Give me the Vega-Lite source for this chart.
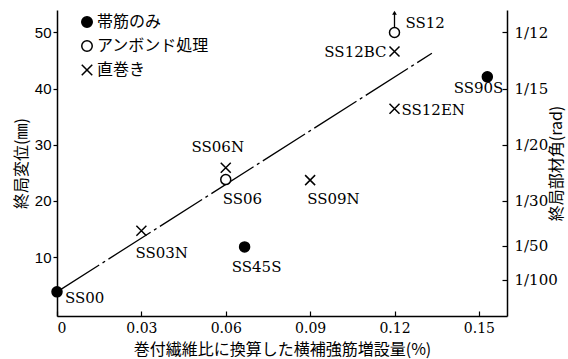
{
  "$schema": "https://vega.github.io/schema/vega-lite/v6.json",
  "width": 450,
  "height": 306,
  "autosize": {"type": "none"},
  "padding": {"left": 57, "top": 10, "right": 61, "bottom": 43},
  "background": "white",
  "config": {
    "view": {"stroke": null},
    "axis": {"grid": false, "domainColor": "black", "tickColor": "black", "labelColor": "black", "titleColor": "black", "domainWidth": 1.5, "tickWidth": 1.2},
    "text": {"font": "DejaVu Serif", "fontSize": 15, "color": "black", "baseline": "middle"}
  },
  "datasets": {
    "specimens": [
      {"name": "SS00", "type": "帯筋のみ", "x": 0, "y": 3.8},
      {"name": "SS45S", "type": "帯筋のみ", "x": 0.0667, "y": 11.8},
      {"name": "SS90S", "type": "帯筋のみ", "x": 0.153, "y": 42.1},
      {"name": "SS06", "type": "アンボンド処理", "x": 0.06, "y": 23.8},
      {"name": "SS12", "type": "アンボンド処理", "x": 0.12, "y": 50},
      {"name": "SS03N", "type": "直巻き", "x": 0.03, "y": 14.7},
      {"name": "SS06N", "type": "直巻き", "x": 0.06, "y": 25.9},
      {"name": "SS09N", "type": "直巻き", "x": 0.09, "y": 23.7},
      {"name": "SS12BC", "type": "直巻き", "x": 0.12, "y": 46.6},
      {"name": "SS12EN", "type": "直巻き", "x": 0.12, "y": 36.4}
    ],
    "fit": [
      {"x": 0, "y": 3.8},
      {"x": 0.1333, "y": 46.3}
    ],
    "arrow": [
      {"x": 0.12, "tail": 50.9, "tip": 53.5}
    ]
  },
  "layer": [
    {
      "data": {"name": "fit"},
      "mark": {"type": "line", "color": "black", "strokeWidth": 1.3, "strokeDash": [50, 4, 3, 4]},
      "encoding": {
        "x": {
          "field": "x", "type": "quantitative",
          "scale": {"domain": [0, 0.16], "nice": false, "zero": false},
          "axis": {
            "values": [0, 0.03, 0.06, 0.09, 0.12, 0.15],
            "labelExpr": "datum.value === 0 ? '0' : format(datum.value, '.2f')",
            "labelFont": "DejaVu Serif", "labelFontSize": 14, "labelPadding": 10,
            "tickSize": -5,
            "title": "巻付繊維比に換算した横補強筋増設量(%)",
            "titleFont": "Noto Sans CJK JP", "titleFontSize": 16, "titleFontWeight": "normal", "titlePadding": 6
          }
        },
        "y": {
          "field": "y", "type": "quantitative",
          "scale": {"domain": [-0.5, 54], "nice": false, "zero": false},
          "axis": {
            "orient": "left",
            "values": [10, 20, 30, 40, 50],
            "labelFont": "Liberation Sans", "labelFontSize": 15, "labelPadding": 2,
            "tickSize": 4,
            "title": "終局変位(㎜)",
            "titleFont": "Noto Sans CJK JP", "titleFontSize": 16, "titleFontWeight": "normal", "titlePadding": 5
          }
        }
      }
    },
    {
      "data": {"name": "specimens"},
      "mark": {"type": "point", "filled": true, "stroke": "black", "strokeWidth": 1.5, "size": 100, "opacity": 1},
      "encoding": {
        "x": {"field": "x", "type": "quantitative"},
        "y": {
          "field": "y", "type": "quantitative",
          "axis": {
            "orient": "right",
            "values": [50, 40, 30, 20, 12, 6],
            "labelExpr": "datum.value == 50 ? '1/12' : datum.value == 40 ? '1/15' : datum.value == 30 ? '1/20' : datum.value == 20 ? '1/30' : datum.value == 12 ? '1/50' : '1/100'",
            "labelFont": "DejaVu Serif", "labelFontSize": 15, "labelPadding": 12,
            "tickSize": -5,
            "title": "終局部材角(rad)",
            "titleFont": "Noto Sans CJK JP", "titleFontSize": 16, "titleFontWeight": "normal",
            "titleAngle": 270, "titleAlign": "center", "titleBaseline": "middle",
            "titleX": 49, "titleY": 153
          }
        },
        "fill": {
          "field": "type", "type": "nominal",
          "scale": {"domain": ["帯筋のみ", "アンボンド処理", "直巻き"], "range": ["black", "white", "black"]},
          "legend": {"orient": "none", "legendX": 22, "legendY": 4, "title": null, "padding": 0, "labelFont": "Noto Sans CJK JP", "labelFontSize": 16, "labelColor": "black", "symbolSize": 110, "rowPadding": 6, "labelOffset": 2,
            "encode": {"symbols": {"update": {"stroke": {"value": "black"}, "strokeWidth": {"value": 1.6}}}}}
        },
        "shape": {
          "field": "type", "type": "nominal",
          "scale": {"domain": ["帯筋のみ", "アンボンド処理", "直巻き"], "range": ["circle", "circle", "M-1,-1L1,1M-1,1L1,-1"]},
          "legend": {"orient": "none", "legendX": 22, "legendY": 4, "title": null, "padding": 0, "labelFont": "Noto Sans CJK JP", "labelFontSize": 16, "labelColor": "black", "symbolSize": 110, "rowPadding": 6, "labelOffset": 2,
            "encode": {"symbols": {"update": {"stroke": {"value": "black"}, "strokeWidth": {"value": 1.6}}}}}
        }
      }
    },
    {
      "data": {"name": "arrow"},
      "mark": {"type": "rule", "color": "black", "strokeWidth": 1.3},
      "encoding": {
        "x": {"field": "x", "type": "quantitative"},
        "y": {"field": "tail", "type": "quantitative", "axis": null},
        "y2": {"field": "tip"}
      }
    },
    {
      "data": {"name": "arrow"},
      "mark": {"type": "point", "shape": "triangle-up", "filled": true, "color": "black", "size": 22, "opacity": 1},
      "encoding": {
        "x": {"field": "x", "type": "quantitative"},
        "y": {"field": "tip", "type": "quantitative", "axis": null}
      }
    },
    {
      "data": {"name": "specimens"},
      "transform": [{"filter": {"field": "name", "oneOf": ["SS00"]}}],
      "mark": {"type": "text", "align": "left", "dx": 8, "dy": 6},
      "encoding": {"x": {"field": "x", "type": "quantitative"}, "y": {"field": "y", "type": "quantitative", "axis": null}, "text": {"field": "name"}}
    },
    {
      "data": {"name": "specimens"},
      "transform": [{"filter": {"field": "name", "oneOf": ["SS03N"]}}],
      "mark": {"type": "text", "align": "left", "dx": -6, "dy": 22},
      "encoding": {"x": {"field": "x", "type": "quantitative"}, "y": {"field": "y", "type": "quantitative", "axis": null}, "text": {"field": "name"}}
    },
    {
      "data": {"name": "specimens"},
      "transform": [{"filter": {"field": "name", "oneOf": ["SS06N"]}}],
      "mark": {"type": "text", "align": "center", "dx": -8, "dy": -21},
      "encoding": {"x": {"field": "x", "type": "quantitative"}, "y": {"field": "y", "type": "quantitative", "axis": null}, "text": {"field": "name"}}
    },
    {
      "data": {"name": "specimens"},
      "transform": [{"filter": {"field": "name", "oneOf": ["SS06", "SS09N"]}}],
      "mark": {"type": "text", "align": "left", "dx": -3, "dy": 19},
      "encoding": {"x": {"field": "x", "type": "quantitative"}, "y": {"field": "y", "type": "quantitative", "axis": null}, "text": {"field": "name"}}
    },
    {
      "data": {"name": "specimens"},
      "transform": [{"filter": {"field": "name", "oneOf": ["SS45S"]}}],
      "mark": {"type": "text", "align": "center", "dx": 12, "dy": 20},
      "encoding": {"x": {"field": "x", "type": "quantitative"}, "y": {"field": "y", "type": "quantitative", "axis": null}, "text": {"field": "name"}}
    },
    {
      "data": {"name": "specimens"},
      "transform": [{"filter": {"field": "name", "oneOf": ["SS12"]}}],
      "mark": {"type": "text", "align": "left", "dx": 11, "dy": -9},
      "encoding": {"x": {"field": "x", "type": "quantitative"}, "y": {"field": "y", "type": "quantitative", "axis": null}, "text": {"field": "name"}}
    },
    {
      "data": {"name": "specimens"},
      "transform": [{"filter": {"field": "name", "oneOf": ["SS12BC"]}}],
      "mark": {"type": "text", "align": "right", "dx": -8, "dy": 0},
      "encoding": {"x": {"field": "x", "type": "quantitative"}, "y": {"field": "y", "type": "quantitative", "axis": null}, "text": {"field": "name"}}
    },
    {
      "data": {"name": "specimens"},
      "transform": [{"filter": {"field": "name", "oneOf": ["SS12EN"]}}],
      "mark": {"type": "text", "align": "left", "dx": 7, "dy": 1},
      "encoding": {"x": {"field": "x", "type": "quantitative"}, "y": {"field": "y", "type": "quantitative", "axis": null}, "text": {"field": "name"}}
    },
    {
      "data": {"name": "specimens"},
      "transform": [{"filter": {"field": "name", "oneOf": ["SS90S"]}}],
      "mark": {"type": "text", "align": "right", "dx": 16, "dy": 11},
      "encoding": {"x": {"field": "x", "type": "quantitative"}, "y": {"field": "y", "type": "quantitative", "axis": null}, "text": {"field": "name"}}
    }
  ],
  "resolve": {"axis": {"y": "independent"}}
}
